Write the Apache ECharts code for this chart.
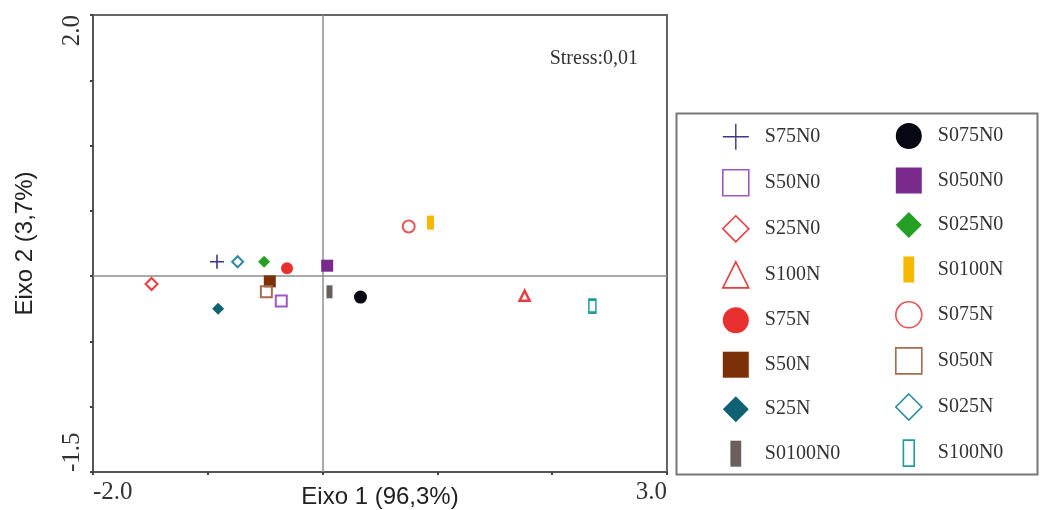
<!DOCTYPE html>
<html>
<head>
<meta charset="utf-8">
<script src="https://cdn.jsdelivr.net/npm/echarts@6/dist/echarts.min.js"></script>
<style>html,body{margin:0;padding:0;background:#fff}#c{width:1040px;height:510px}</style>
</head>
<body>
<div id="c"></div>
<script>
// ---- data ----
const seriesNames = ['S75N0','S50N0','S25N0','S100N','S75N','S50N','S25N','S0100N0',
                     'S075N0','S050N0','S025N0','S0100N','S075N','S050N','S025N','S100N0'];
const xValues = [-0.92,-0.36,-1.49, 1.76,-0.31,-0.46,-0.91, 0.06,
                  0.33, 0.04,-0.51, 0.94, 0.75,-0.49,-0.74, 2.35];
const yValues = [ 0.11,-0.19,-0.06,-0.15, 0.06,-0.04,-0.25,-0.12,
                 -0.16, 0.08, 0.11, 0.41, 0.38,-0.12, 0.11,-0.23];
const xTickLabels = ['-2.0','3.0'];
const yTickLabels = ['-1.5','2.0'];
const stressText = 'Stress:0,01';
const xAxisName = 'Eixo 1 (96,3%)';
const yAxisName = 'Eixo 2 (3,7%)';

// ---- styles ----
const CROSS = 'path://M0,10H20M10,0V20';
const BAR = 'path://M0,0h10v24h-10z';
const styles = {
  S75N0:  {sym: CROSS, size: 14, icon: CROSS, color: '#3c3788', hollow: true, bw: 1.6},
  S50N0:  {sym: 'rect', size: 11, icon: 'rect', color: '#a055c4', hollow: true, bw: 2},
  S25N0:  {sym: 'diamond', size: 12, icon: 'diamond', color: '#e83c40', hollow: true, bw: 2},
  S100N:  {sym: 'triangle', size: 10, icon: 'triangle', color: '#e83c40', hollow: true, bw: 2.5},
  S75N:   {sym: 'circle', size: 12, icon: 'circle', color: '#e8302f', hollow: false},
  S50N:   {sym: 'rect', size: 12, icon: 'rect', color: '#7b3008', hollow: false},
  S25N:   {sym: 'diamond', size: 12, icon: 'diamond', color: '#0f6274', hollow: false},
  S0100N0:{sym: 'rect', size: [6, 13], icon: BAR, color: '#6a5f5a', hollow: false},
  S075N0: {sym: 'circle', size: 13, icon: 'circle', color: '#080812', hollow: false},
  S050N0: {sym: 'rect', size: 12, icon: 'rect', color: '#7a2a8c', hollow: false},
  S025N0: {sym: 'diamond', size: 12, icon: 'diamond', color: '#25a025', hollow: false},
  S0100N: {sym: 'rect', size: [7, 14], icon: BAR, color: '#f8b800', hollow: false},
  S075N:  {sym: 'circle', size: 12, icon: 'circle', color: '#e85454', hollow: true, bw: 2},
  S050N:  {sym: 'rect', size: 11, icon: 'rect', color: '#a86a4c', hollow: true, bw: 2},
  S025N:  {sym: 'diamond', size: 11, icon: 'diamond', color: '#2f8aa4', hollow: true, bw: 2},
  S100N0: {sym: 'rect', size: [7, 13], icon: BAR, color: '#1f9c9c', hollow: true, bw: 2}
};

function itemStyleOf(s) {
  return s.hollow
    ? {color: 'rgba(255,255,255,0)', borderColor: s.color, borderWidth: s.bw, opacity: 1}
    : {color: s.color, borderWidth: 0, opacity: 1};
}

const series = seriesNames.map((name, i) => {
  const s = styles[name];
  const ser = {
    name: name,
    type: 'scatter',
    symbol: s.sym,
    symbolSize: s.size,
    itemStyle: itemStyleOf(s),
    data: [[xValues[i], yValues[i]]],
    z: 3
  };
  if (i === 0) {
    ser.markLine = {
      silent: true,
      symbol: 'none',
      label: {show: false},
      lineStyle: {color: '#8c8c8c', width: 1.5, type: 'solid', opacity: 1},
      data: [{xAxis: 0}, {yAxis: 0}],
      z: 1
    };
  }
  return ser;
});

function legendData(names) {
  return names.map(n => {
    const s = styles[n];
    const st = s.hollow
      ? {color: 'rgba(255,255,255,0)', borderColor: s.color, borderWidth: s.icon === CROSS ? 1.4 : 1.6, opacity: 1}
      : {color: s.color, borderWidth: 0, opacity: 1};
    return {name: n, icon: s.icon, itemStyle: st};
  });
}

const legendText = {fontFamily: 'Liberation Serif', fontSize: 20, color: '#333'};

const option = {
  animation: false,
  backgroundColor: '#fff',
  grid: {left: 93, right: 373, top: 15, bottom: 38, show: true, borderColor: '#666', borderWidth: 2,
         outerBoundsMode: 'none', containLabel: false},
  xAxis: {
    type: 'value', min: -2, max: 3, interval: 1,
    name: xAxisName, nameLocation: 'middle', nameGap: 13, nameMoveOverlap: false,
    nameTextStyle: {fontFamily: 'Liberation Sans', fontSize: 24, color: '#222'},
    axisLine: {show: true, onZero: false, lineStyle: {color: '#555', width: 2}},
    axisTick: {show: true, length: 3, lineStyle: {color: '#444', width: 2}},
    splitLine: {show: false},
    axisLabel: {
      fontFamily: 'Liberation Serif', fontSize: 25, color: '#333', margin: 8,
      alignMinLabel: 'left', alignMaxLabel: 'right',
      formatter: v => (v === -2 ? xTickLabels[0] : v === 3 ? xTickLabels[1] : '')
    }
  },
  yAxis: {
    type: 'value', min: -1.5, max: 2, interval: 0.5,
    name: yAxisName, nameLocation: 'middle', nameGap: 56, nameMoveOverlap: false,
    nameTextStyle: {fontFamily: 'Liberation Sans', fontSize: 24, color: '#222'},
    axisLine: {show: true, onZero: false, lineStyle: {color: '#555', width: 2}},
    axisTick: {show: true, length: 3, lineStyle: {color: '#444', width: 2}},
    splitLine: {show: false},
    axisLabel: {
      fontFamily: 'Liberation Serif', fontSize: 25, color: '#333', margin: 8, rotate: 90,
      alignMinLabel: 'left', alignMaxLabel: 'right',
      formatter: v => (v === -1.5 ? yTickLabels[0] : v === 2 ? yTickLabels[1] : '')
    }
  },
  legend: [
    {
      orient: 'vertical', left: 717, top: 118, itemWidth: 26, itemHeight: 26, itemGap: 18.5,
      selectedMode: false, textStyle: Object.assign({padding: [0, 0, 0, 11]}, legendText),
      data: legendData(seriesNames.slice(0, 8))
    },
    {
      orient: 'vertical', left: 890, top: 118, itemWidth: 26, itemHeight: 26, itemGap: 18.5,
      selectedMode: false, textStyle: Object.assign({padding: [0, 0, 0, 11]}, legendText),
      data: legendData(seriesNames.slice(8))
    }
  ],
  graphic: [
    {type: 'rect', left: 674, top: 111, shape: {width: 361, height: 361},
     style: {fill: 'none', stroke: '#777', lineWidth: 2}, silent: true},
    {type: 'text', right: 1040 - 638, top: 49,
     style: {text: stressText, font: '20px "Liberation Serif"', fill: '#333'}}
  ],
  series: series
};

const chart = echarts.init(document.getElementById('c'), null, {renderer: 'canvas'});
chart.setOption(option);
</script>
</body>
</html>
